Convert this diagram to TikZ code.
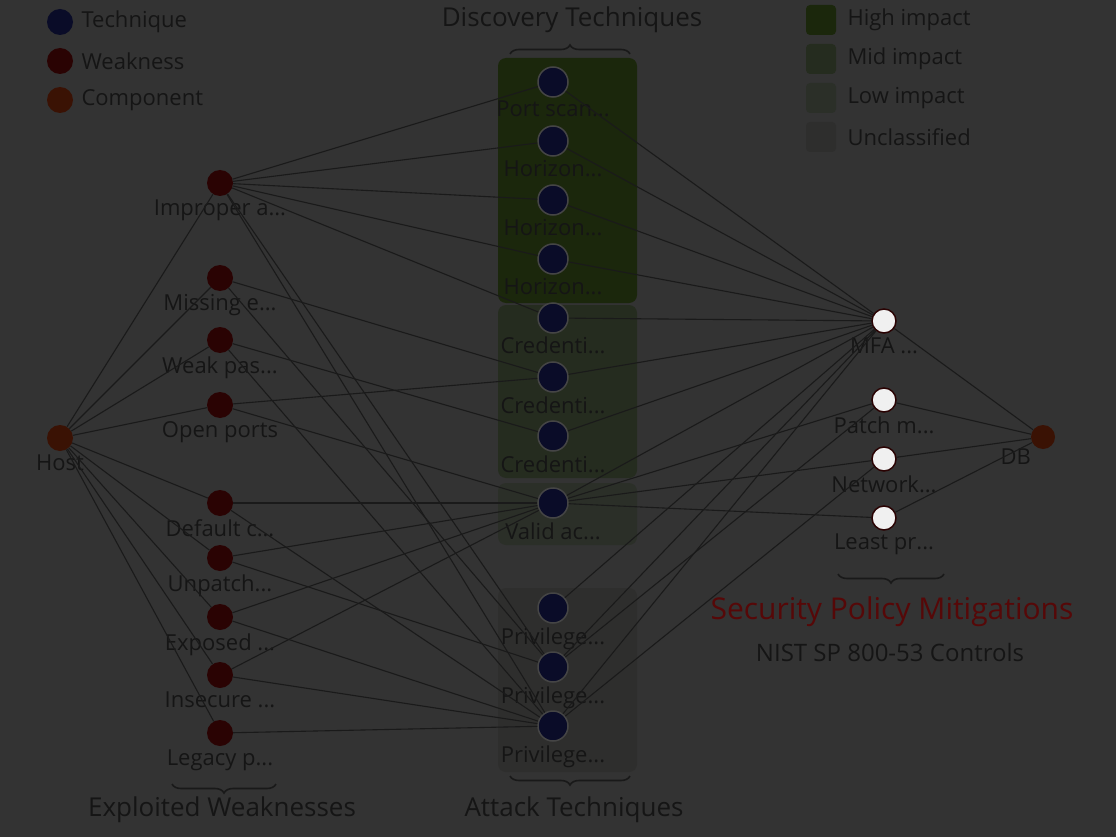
\documentclass[tikz,border=0pt]{standalone}
\usepackage{fontspec}
\setmainfont{Open Sans}
\usetikzlibrary{decorations.pathreplacing}

\definecolor{canvas}{HTML}{333333}
\definecolor{ink}{HTML}{151515}
\definecolor{wire}{HTML}{1A1A1A}
\definecolor{techfill}{HTML}{0A0C28}
\definecolor{weakfill}{HTML}{2A0303}
\definecolor{compfill}{HTML}{3A1204}
\definecolor{ringgray}{HTML}{454545}
\definecolor{grpA}{HTML}{1B270C}
\definecolor{grpB}{HTML}{252C1F}
\definecolor{grpC}{HTML}{2B2F28}
\definecolor{grpD}{HTML}{2E2E2D}
\definecolor{policyred}{HTML}{560808}

\tikzset{
  tag/.style={font=\fontsize{22}{26}\selectfont, text=ink},
  caption/.style={font=\fontsize{26}{30}\selectfont, text=ink},
  tech/.style={circle, fill=techfill, draw=ringgray, line width=1.5pt, minimum size=30pt, inner sep=0pt},
  weak/.style={circle, fill=weakfill, minimum size=26pt, inner sep=0pt},
  comp/.style={circle, fill=compfill, minimum size=26pt, inner sep=0pt},
  ctrl/.style={circle, fill=white!94!black, draw=weakfill, line width=1.5pt, minimum size=24pt, inner sep=0pt},
  wire/.style={draw=wire, line width=1.1pt},
  group/.style={rounded corners=8pt},
  bracket/.style={draw=black!90, line width=1.6pt, decorate, decoration={brace, amplitude=9pt}}
}

\begin{document}
\begin{tikzpicture}[x=1pt, y=-1pt]

\useasboundingbox[fill=canvas] (0,0) rectangle (1116,837);

% technique groups
\fill[grpA, group] (498,58) rectangle (637,303);
\fill[grpB, group] (498,305) rectangle (637,478);
\fill[grpC, group] (498,483) rectangle (637,545);
\fill[grpD, group] (498,588) rectangle (637,772);

% legend, node kinds
\node[tech, minimum size=26pt, draw=none] (k1) at (60,22) {};
\node[weak] (k2) at (60,61) {};
\node[comp] (k3) at (60,100) {};
\node[tag, anchor=west] (k1t) at (78,22) {Technique};
\node[tag, anchor=west] (k2t) at (78,61) {Weakness};
\node[tag, anchor=west] (k3t) at (78,100) {Component};

% legend, group shading
\node[fill=grpA, rounded corners=4pt, minimum size=30pt] (s1) at (821,20) {};
\node[fill=grpB, rounded corners=4pt, minimum size=30pt] (s2) at (821,59) {};
\node[fill=grpC, rounded corners=4pt, minimum size=30pt] (s3) at (821,98) {};
\node[fill=grpD, rounded corners=4pt, minimum size=30pt] (s4) at (821,137) {};
\node[tag, anchor=west] (s1t) at (844,20) {High impact};
\node[tag, anchor=west] (s2t) at (844,59) {Mid impact};
\node[tag, anchor=west] (s3t) at (844,98) {Low impact};
\node[tag, anchor=west] (s4t) at (844,137) {Unclassified};

% entry and target components
\node[comp, label={[tag]below:Host}] (h) at (60,438) {};
\node[comp, minimum size=24pt, label={[tag]below left:DB}] (d) at (1043,437) {};

% weaknesses
\node[weak, label={[tag]below:Improper a...}] (w1) at (220,183) {};
\node[weak, label={[tag]below:Missing e...}] (w2) at (220,278) {};
\node[weak, label={[tag]below:Weak pas...}] (w3) at (220,340) {};
\node[weak, label={[tag]below:Open ports}] (w4) at (220,405) {};
\node[weak, label={[tag]below:Default c...}] (w5) at (220,503) {};
\node[weak, label={[tag]below:Unpatch...}] (w6) at (220,558) {};
\node[weak, label={[tag]below:Exposed ...}] (w7) at (220,617) {};
\node[weak, label={[tag]below:Insecure ...}] (w8) at (220,675) {};
\node[weak, label={[tag]below:Legacy p...}] (w9) at (220,733) {};

% techniques
\node[tech, label={[tag]below:Port scan...}] (t1) at (553,82) {};
\node[tech, label={[tag]below:Horizon...}] (t2) at (553,141) {};
\node[tech, label={[tag]below:Horizon...}] (t3) at (553,200) {};
\node[tech, label={[tag]below:Horizon...}] (t4) at (553,259) {};
\node[tech, label={[tag]below:Credenti...}] (t5) at (553,318) {};
\node[tech, label={[tag]below:Credenti...}] (t6) at (553,377) {};
\node[tech, label={[tag]below:Credenti...}] (t7) at (553,436) {};
\node[tech, label={[tag]below:Valid ac...}] (t8) at (553,503) {};
\node[tech, label={[tag]below:Privilege...}] (t9) at (553,608) {};
\node[tech, label={[tag]below:Privilege...}] (t10) at (553,667) {};
\node[tech, label={[tag]below:Privilege...}] (t11) at (553,726) {};

% mitigations
\node[ctrl, label={[tag]below:MFA ...}] (c1) at (884,321) {};
\node[ctrl, label={[tag]below:Patch m...}] (c2) at (884,400) {};
\node[ctrl, label={[tag]below:Network...}] (c3) at (884,459) {};
\node[ctrl, label={[tag]below:Least pr...}] (c4) at (884,518) {};

% brackets and captions
\draw[bracket] (510,54) -- (630,54);
\draw[bracket] (630,776) -- (510,776);
\draw[bracket] (276,784) -- (172,784);
\draw[bracket] (944,574) -- (838,574);

\node[caption] (top) at (572,20) {Discovery Techniques};
\node[caption] (bot) at (574,810) {Attack Techniques};
\node[caption] (left) at (222,810) {Exploited Weaknesses};
\node[caption, font=\fontsize{30}{34}\selectfont, text=policyred] (pol) at (892,612) {Security Policy Mitigations};
\node[caption, font=\fontsize{24}{28}\selectfont] (nist) at (890,652) {NIST SP 800-53 Controls};

% host to weaknesses
\draw[wire] (h) -- (w1);
\draw[wire] (h) -- (w2);
\draw[wire] (h) -- (w3);
\draw[wire] (h) -- (w4);
\draw[wire] (h) -- (w5);
\draw[wire] (h) -- (w6);
\draw[wire] (h) -- (w7);
\draw[wire] (h) -- (w8);
\draw[wire] (h) -- (w9);

% weaknesses to techniques
\draw[wire] (w1) -- (t1);
\draw[wire] (w1) -- (t2);
\draw[wire] (w1) -- (t3);
\draw[wire] (w1) -- (t4);
\draw[wire] (w1) -- (t5);
\draw[wire] (w1) -- (t10);
\draw[wire] (w1) -- (t11);
\draw[wire] (w2) -- (t6);
\draw[wire] (w2) -- (t10);
\draw[wire] (w3) -- (t7);
\draw[wire] (w3) -- (t11);
\draw[wire] (w4) -- (t6);
\draw[wire] (w4) -- (t8);
\draw[wire] (w5) -- (t8);
\draw[wire] (w5) -- (t11);
\draw[wire] (w6) -- (t8);
\draw[wire] (w6) -- (t10);
\draw[wire] (w7) -- (t8);
\draw[wire] (w7) -- (t11);
\draw[wire] (w8) -- (t8);
\draw[wire] (w8) -- (t11);
\draw[wire] (w9) -- (t11);

% techniques to mitigations
\draw[wire] (t1) -- (c1);
\draw[wire] (t2) -- (c1);
\draw[wire] (t3) -- (c1);
\draw[wire] (t4) -- (c1);
\draw[wire] (t5) -- (c1);
\draw[wire] (t6) -- (c1);
\draw[wire] (t7) -- (c1);
\draw[wire] (t8) -- (c1);
\draw[wire] (t8) -- (c2);
\draw[wire] (t8) -- (c3);
\draw[wire] (t8) -- (c4);
\draw[wire] (t9) -- (c1);
\draw[wire] (t10) -- (c1);
\draw[wire] (t10) -- (c2);
\draw[wire] (t11) -- (c1);
\draw[wire] (t11) -- (c3);

% mitigations to target
\draw[wire] (c1) -- (d);
\draw[wire] (c2) -- (d);
\draw[wire] (c3) -- (d);
\draw[wire] (c4) -- (d);

\end{tikzpicture}
\end{document}
